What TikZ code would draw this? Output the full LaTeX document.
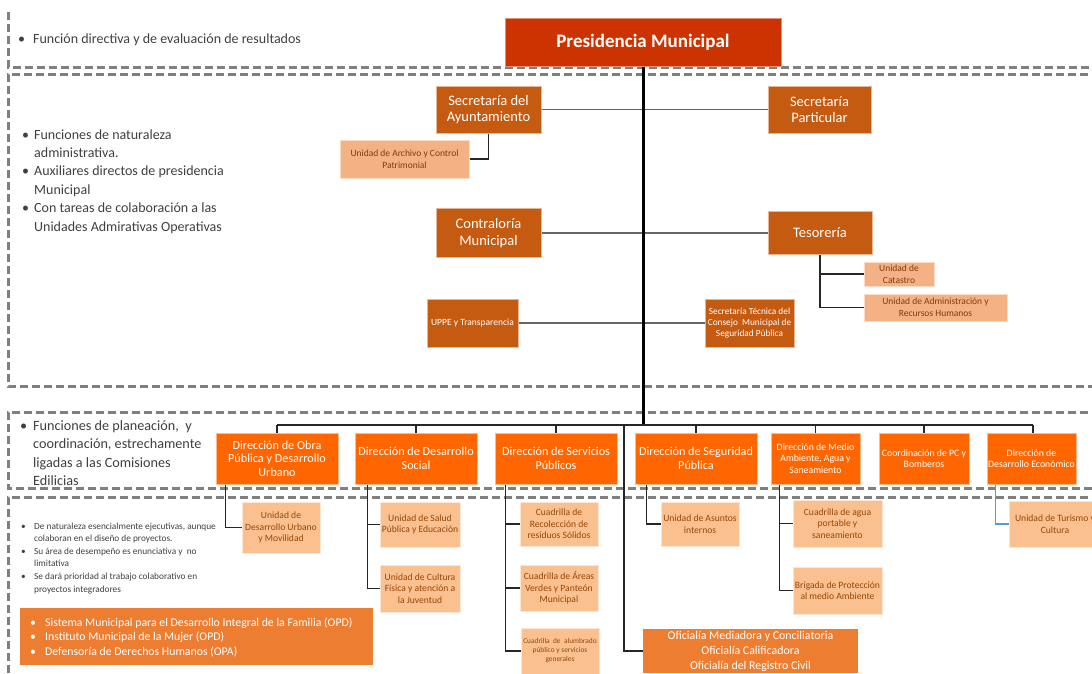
\documentclass[tikz,border=0pt]{standalone}
\usepackage{fontspec}
\setmainfont{Carlito}
\definecolor{presc}{RGB}{204,51,0}
\definecolor{secc}{RGB}{197,90,17}
\definecolor{dirc}{RGB}{255,102,0}
\definecolor{litec}{RGB}{244,177,131}
\definecolor{peachc}{RGB}{250,192,144}
\definecolor{ofic}{RGB}{237,125,49}
\definecolor{brownc}{RGB}{132,60,12}
\definecolor{brownd}{RGB}{151,71,6}
\definecolor{dashgray}{RGB}{127,127,127}
\definecolor{bluec}{RGB}{91,155,213}
\definecolor{txtc}{RGB}{64,64,64}
\tikzset{
 box/.style={rectangle, inner sep=0pt, align=center, line width=1pt},
 presbox/.style={box, fill=presc, draw=presc!55!white, text=white, font=\fontsize{19}{22}\selectfont\bfseries},
 secbox/.style={box, fill=secc, draw=secc!45!white, text=white, font=\fontsize{14.5}{16.5}\selectfont},
 secsmall/.style={box, fill=secc, draw=secc!45!white, text=white, font=\fontsize{9.3}{10.8}\selectfont},
 litebox/.style={box, fill=litec, draw=litec!45!white, text=brownc, font=\fontsize{9.5}{11.7}\selectfont},
 dirbox/.style={box, fill=dirc, draw=dirc!45!white, text=white, font=\fontsize{12.2}{13.6}\selectfont},
 dirsmall/.style={box, fill=dirc, draw=dirc!45!white, text=white, font=\fontsize{9.8}{11.4}\selectfont},
 peachbox/.style={box, fill=peachc, draw=peachc!40!white, text=brownd, font=\fontsize{9.6}{11.4}\selectfont},
 tinybox/.style={peachbox, font=\fontsize{7.4}{9}\selectfont},
 ofibox/.style={box, fill=ofic, text=white},
 region/.style={draw=dashgray, line width=3pt, dash pattern=on 8pt off 4pt},
 conn/.style={draw=black!85, line width=1.4pt},
 gconn/.style={draw=black!60, line width=1.6pt},
 txt/.style={inner sep=0pt, anchor=base west, text=txtc},
}
\begin{document}
\begin{tikzpicture}[x=1pt,y=-1pt]
\useasboundingbox (0,0) rectangle (1092,673);
\fill[white] (0,0) rectangle (1092,673);
% regions
\draw[region] (8,12) -- (8,67) -- (1100,67);
\draw[region] (1100,74) -- (8,74) -- (8,386) -- (1100,386);
\draw[region] (1100,412) -- (8,412) -- (8,488) -- (1100,488);
\draw[region] (1100,497) -- (8,497) -- (8,690);
% region texts
\node[txt, font=\fontsize{14}{16}\selectfont] (t1) at (18,43.5) {\makebox[15pt][l]{\textbullet}Función directiva y de evaluación de resultados};
\node[txt, font=\fontsize{14}{18.4}\selectfont] (t2) at (22,139) {\begin{tabular}[t]{@{}p{12pt}@{}l@{}}\textbullet & Funciones de naturaleza\\ & administrativa.\\ \textbullet & Auxiliares directos de presidencia\\ & Municipal\\ \textbullet & Con tareas de colaboración a las\\ & Unidades Admirativas Operativas\end{tabular}};
\node[txt, font=\fontsize{14.2}{18.5}\selectfont] (t3) at (20,430) {\begin{tabular}[t]{@{}p{13pt}@{}l@{}}\textbullet & Funciones de planeación,\ \ y\\ & coordinación, estrechamente\\ & ligadas a las Comisiones\\ & Edilicias\end{tabular}};
\node[txt, font=\fontsize{9.3}{12.6}\selectfont] (t4) at (21,529) {\begin{tabular}[t]{@{}p{13pt}@{}l@{}}\textbullet & De naturaleza esencialmente ejecutivas, aunque\\ & colaboran en el diseño de proyectos.\\ \textbullet & Su área de desempeño es enunciativa y\ \ no\\ & limitativa\\ \textbullet & Se dará prioridad al trabajo colaborativo en\\ & proyectos integradores\end{tabular}};
% boxes level 1-2
\node[presbox, minimum width=276pt, minimum height=48pt] (pres) at (643,42) {Presidencia Municipal};
\node[secbox, minimum width=105pt, minimum height=47pt] (secay) at (488.5,109.5) {Secretaría del\\Ayuntamiento};
\node[secbox, minimum width=103pt, minimum height=47pt] (secpar) at (819.5,109.5) {Secretaría\\Particular};
\node[litebox, minimum width=129pt, minimum height=38pt] (archivo) at (404.5,159) {Unidad de Archivo y Control\\Patrimonial};
\node[secbox, minimum width=105pt, minimum height=49pt] (contra) at (488.5,233) {Contraloría\\Municipal};
\node[secbox, minimum width=104pt, minimum height=43pt] (tes) at (820,233) {Tesorería};
\node[litebox, minimum width=70pt, minimum height=24pt] (catastro) at (899,274) {Unidad de\\Catastro};
\node[litebox, minimum width=143pt, minimum height=27pt] (adminrh) at (935.5,307.5) {Unidad de Administración y\\Recursos Humanos};
\node[secsmall, minimum width=91pt, minimum height=48pt, font=\fontsize{9.5}{11}\selectfont] (uppe) at (472.5,323) {UPPE y Transparencia};
\node[secsmall, minimum width=89pt, minimum height=48pt] (sectec) at (749.5,323) {Secretaría Técnica del\\Consejo\ \ Municipal de\\Seguridad Pública};
% connectors level 2
\coordinate (busL) at (277,425);
\coordinate (busR) at (1033,425);
\draw[gconn] (secay.east) -- (secpar.west);
\draw[gconn] (contra.east) -- (tes.west);
\draw[gconn] (uppe.east) -- (sectec.west);
\draw[conn] (secay.south) |- (archivo.east);
\draw[conn] (tes.south) |- (catastro.west);
\draw[conn] (tes.south) |- (adminrh.west);
\draw[black, line width=3pt] (pres.south) -- (pres.south |- busL);
\draw[conn, line width=1.8pt] (busL) -- (busR);
% direcciones
\node[dirbox, minimum width=122pt, minimum height=51pt] (obra) at (277,458.5) {Dirección de Obra\\Pública y Desarrollo\\Urbano};
\node[dirbox, minimum width=122pt, minimum height=51pt] (dsoc) at (416,458.5) {Dirección de Desarrollo\\Social};
\node[dirbox, minimum width=122pt, minimum height=51pt] (serv) at (556,458.5) {Dirección de Servicios\\Públicos};
\node[dirbox, minimum width=122pt, minimum height=51pt] (seg) at (696,458.5) {Dirección de Seguridad\\Pública};
\node[dirsmall, minimum width=89pt, minimum height=51pt] (medio) at (815.5,458.5) {Dirección de Medio\\Ambiente, Agua y\\Saneamiento};
\node[dirsmall, minimum width=90pt, minimum height=51pt] (pc) at (924,458.5) {Coordinación de PC y\\Bomberos};
\node[dirsmall, minimum width=89pt, minimum height=51pt] (deco) at (1031.5,458.5) {Dirección de\\Desarrollo Económico};
\foreach \n in {obra,dsoc,serv,seg,medio,pc} {\draw[conn] (\n.north) -- (\n.north |- busL);}
\draw[conn] (busR) -- (busR |- deco.north);
% sub units
\node[peachbox, minimum width=78pt, minimum height=51pt] (udu) at (281,527.5) {Unidad de\\Desarrollo Urbano\\y Movilidad};
\node[peachbox, minimum width=80pt, minimum height=45pt] (salud) at (420,524.5) {Unidad de Salud\\Pública y Educación};
\node[peachbox, minimum width=80pt, minimum height=47pt] (cultura) at (420,588.5) {Unidad de Cultura\\Física y atención a\\la Juventud};
\node[peachbox, minimum width=78pt, minimum height=44pt] (recol) at (559,524) {Cuadrilla de\\Recolección de\\residuos Sólidos};
\node[peachbox, minimum width=78pt, minimum height=46pt] (verdes) at (559,588) {Cuadrilla de Áreas\\Verdes y Panteón\\Municipal};
\node[tinybox, minimum width=78pt, minimum height=46pt] (alumb) at (560,651) {Cuadrilla\ \ de\ \ alumbrado\\público y servicios\\generales};
\node[peachbox, minimum width=78pt, minimum height=44pt] (asuntos) at (700,524) {Unidad de Asuntos\\internos};
\node[peachbox, minimum width=89pt, minimum height=47pt] (agua) at (837.5,523.5) {Cuadrilla de agua\\portable y\\saneamiento};
\node[peachbox, minimum width=89pt, minimum height=47pt] (brigada) at (837.5,590.5) {Brigada de Protección\\al medio Ambiente};
\node[peachbox, minimum width=92pt, minimum height=46pt] (turismo) at (1055,524) {Unidad de Turismo y\\Cultura};
\node[ofibox, minimum width=215pt, minimum height=44pt, font=\fontsize{11.9}{15}\selectfont] (ofi) at (750.5,651) {Oficialía Mediadora y Conciliatoria\\Oficialía Calificadora\\Oficialía del Registro Civil};
\node[ofibox, minimum width=353pt, minimum height=57pt] (opd) at (196.5,636.5) {};
\node[txt, text=white, font=\fontsize{11.8}{14.8}\selectfont] (opdtxt) at (30,626) {\begin{tabular}[t]{@{}p{15pt}@{}l@{}}\textbullet & Sistema Municipal para el Desarrollo Integral de la Familia (OPD)\\ \textbullet & Instituto Municipal de la Mujer (OPD)\\ \textbullet & Defensoría de Derechos Humanos (OPA)\end{tabular}};
% sub connectors
\draw[conn] ([xshift=10pt]obra.south west) |- (udu.west);
\draw[conn] ([xshift=13pt]dsoc.south west) |- (salud.west);
\draw[conn] ([xshift=13pt]dsoc.south west) |- (cultura.west);
\draw[conn] ([xshift=11pt]serv.south west) |- (recol.west);
\draw[conn] ([xshift=11pt]serv.south west) |- (verdes.west);
\draw[conn] ([xshift=11pt]serv.south west) |- (alumb.west);
\draw[conn] ([xshift=12pt]seg.south west) |- (asuntos.west);
\draw[conn] ([xshift=9pt]medio.south west) |- (agua.west);
\draw[conn] ([xshift=9pt]medio.south west) |- (brigada.west);
\draw[bluec, line width=1.4pt] ([xshift=9pt]deco.south west) |- (turismo.west);
\coordinate (busofi) at (624,425);
\draw[conn] (busofi) |- (ofi.west);
\end{tikzpicture}
\end{document}
